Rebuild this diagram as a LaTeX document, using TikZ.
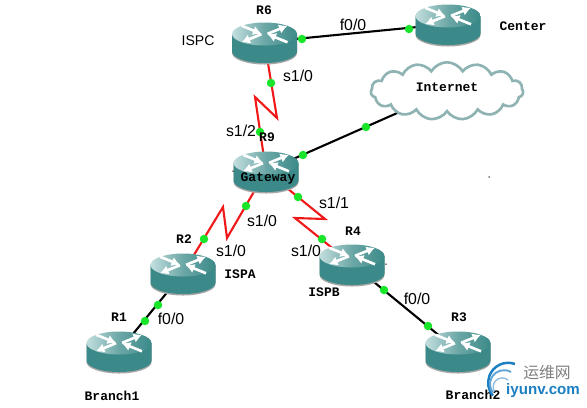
\documentclass[tikz,border=0pt]{standalone}
\usepackage{fontspec}
\setmainfont{Liberation Sans}
\newfontfamily\labelfont{Liberation Mono}
\newfontfamily\cjkfont{Noto Sans CJK SC}
\usetikzlibrary{arrows.meta,backgrounds,shapes.symbols}
\definecolor{Teal}{HTML}{3B8A89}
\definecolor{TealLight}{HTML}{C3DEDE}
\definecolor{Cloud}{HTML}{8FB3B3}
\definecolor{Port}{HTML}{19E62B}
\definecolor{Serial}{HTML}{F01818}
\definecolor{Mark}{HTML}{1C7FC4}
\tikzset{
  routerbody/.pic={
    \fill[gray!70] (-32.5,-7) -- (-32.5,11) arc[start angle=180,end angle=0,x radius=32.5,y radius=11.5] -- (32.5,-7) -- cycle;
    \fill[Teal] (-32.5,-8) -- (-32.5,9.5) arc[start angle=180,end angle=0,x radius=32.5,y radius=11.5] -- (32.5,-8) -- cycle;
    \shade[left color=TealLight,right color=Teal,middle color=Teal!75] (0,-8) ellipse [x radius=32.5,y radius=11.5];
    \foreach \a/\b in {3/23,-3/-23}
      \draw[arrowbar] (\a,{-8-\a*0.06}) -- (\b,{-8-\b*0.36});
    \foreach \a/\b in {-23/-3,23/3}
      \draw[arrowbar] (\a,{-8+\a*0.36}) -- (\b,{-8+\b*0.06});
  }
}
\begin{document}
\begin{tikzpicture}[
    x=0.02cm,y=-0.02cm,
    arrowbar/.style={white,line width=1.5pt,-{Latex[length=1.7mm,width=1.9mm]}},
    router/.style={minimum width=1.3cm,minimum height=0.84cm,inner sep=0pt},
    ethernet/.style={black,line width=1.2pt},
    serial/.style={Serial,line width=1.2pt},
    port/.style={circle,fill=Port,minimum size=0.17cm,inner sep=0pt},
    hostname/.style={font=\labelfont\bfseries\fontsize{7.4}{9}\selectfont},
    iface/.style={font=\fontsize{9}{11}\selectfont},
    speck/.style={circle,fill=black,minimum size=0.03cm,inner sep=0pt}
  ]
    \useasboundingbox (0,0) rectangle (587,407);
    % routers
    \foreach \n/\p in {r6/{264.5,42},center/{448,24},r9/{266,171},r2/{183,273},r4/{352,264},r1/{119,351},r3/{458,351}} {
      \node[router] (\n) at (\p) {};
      \pic at (\p) {routerbody};
    }
    \node[cloud,cloud puffs=15,cloud puff arc=120,aspect=2.8,draw=Cloud,fill=white,line width=1.5pt,
      minimum width=3.05cm,minimum height=1.15cm,inner sep=0pt] (internet) at (447,91) {};
    % bends of the serial links
    \coordinate (z1) at (277,118);
    \coordinate (z2) at (255,97);
    \coordinate (z3) at (227,238);
    \coordinate (z4) at (223,207);
    \coordinate (z5) at (325,219);
    \coordinate (z6) at (295,218);
    \begin{scope}[on background layer]
      \fill[white] (0,0) rectangle (587,407);
      \draw[ethernet] (r6.center) -- (center.center);
      \draw[ethernet] (r9.center) -- (internet.center);
      \draw[ethernet] (r2.center) -- (r1.center);
      \draw[ethernet] (r4.center) -- (r3.center);
      \draw[serial] (r6.center) -- (z1) -- (z2) -- (r9.center);
      \draw[serial] (r9.center) -- (z3) -- (z4) -- (r2.center);
      \draw[serial] (r9.center) -- (z5) -- (z6) -- (r4.center);
    \end{scope}
    % link ends
    \foreach \i/\p in {a/{302,39},b/{409,29},c/{271,83},d/{260,132},e/{303,155},f/{366,127},
        g/{246,206},h/{204,239},k/{298,197},l/{322,239},m/{158,305},n/{145,321},o/{384,290},q/{428,326}}
      \node[port] (port\i) at (\p) {};
    % names
    \foreach \n/\p/\t in {n6/{264,10}/R6,n9/{267,137}/R9,n2/{184,239}/R2,n4/{353,231}/R4,n1/{119,317}/R1,n3/{459,317}/R3,
        ncenter/{523,26}/Center,ninternet/{447,87}/Internet,ngateway/{268,178}/Gateway,
        nispa/{240,274}/ISPA,nispb/{324,292}/ISPB,nbranch1/{112,396}/Branch1,nbranch2/{473,395}/Branch2}
      \node[hostname] (\n) at (\p) {\t};
    \node[iface,font=\fontsize{8}{10}\selectfont] (nispc) at (198,41) {ISPC};
    % interfaces
    \foreach \n/\p/\t in {i1/{353,25}/f0\slash 0,i2/{298,76}/s1\slash 0,i3/{241,131}/s1\slash 2,i4/{334,203}/s1\slash 1,
        i5/{262,221}/s1\slash 0,i6/{231,251}/s1\slash 0,i7/{306,251}/s1\slash 0,i8/{171,319}/f0\slash 0,i9/{417,299}/f0\slash 0}
      \node[iface] (\n) at (\p) {\t};
    \node[speck] (s1) at (489,177) {};
    \node[speck] (s2) at (386,264) {};
    \node[speck] (s3) at (233,171) {};
    % mark in the corner
    \draw[Mark,line width=1.4pt] (515,364) arc[start angle=-70,end angle=-220,radius=20];
    \draw[Mark!70,line width=1.1pt] (511,372) arc[start angle=-60,end angle=-215,radius=14];
    \draw[Mark!50,line width=0.8pt] (508,380) arc[start angle=-50,end angle=-210,radius=9];
    \node[font=\cjkfont\fontsize{9}{11}\selectfont,text=gray] (markcn) at (547,373) {运维网};
    \node[font=\bfseries\fontsize{8.6}{10}\selectfont,text=Mark] (markurl) at (543,391) {iyunv.com};
  \end{tikzpicture}
\end{document}
